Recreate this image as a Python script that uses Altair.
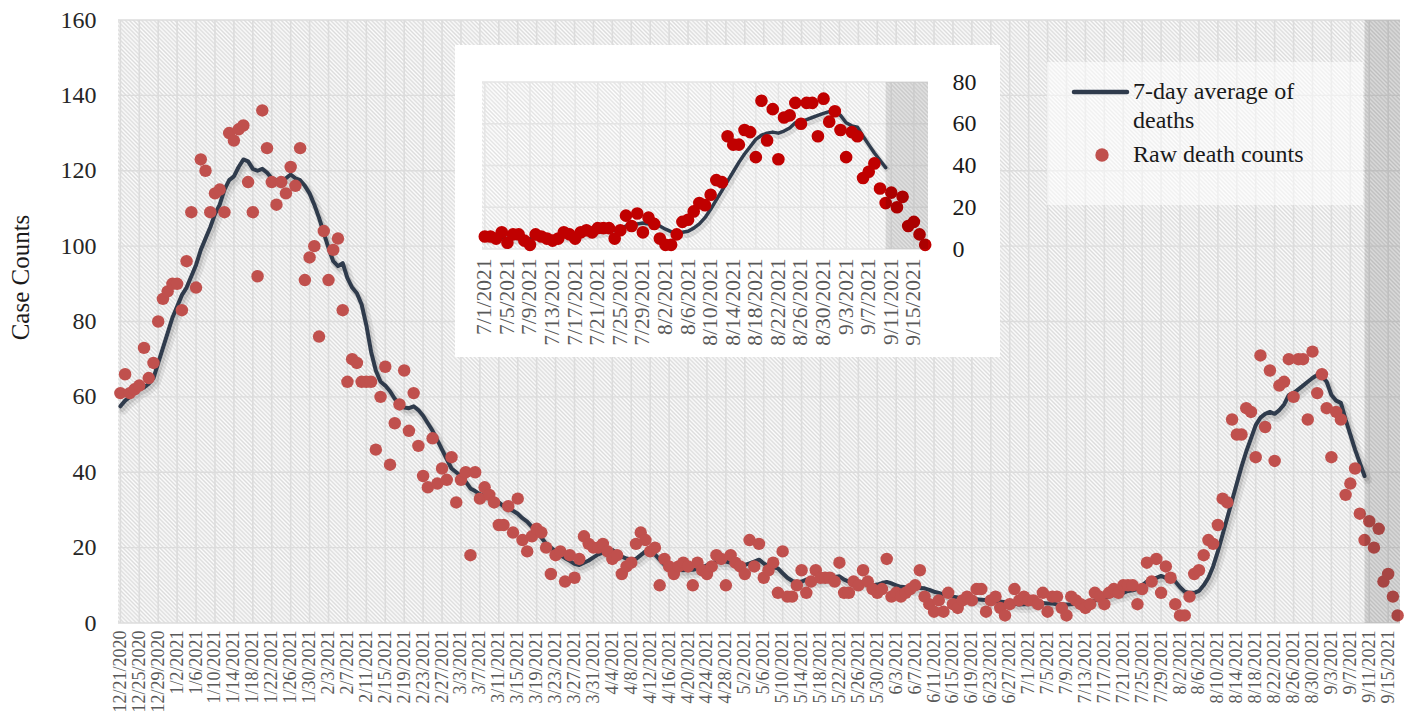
import altair as alt
import pandas as pd
import numpy as np

# ---------------- data ----------------
START_DATE = "2020-12-21"
SHADE_START = "2021-09-10"      # start of the greyed (incomplete) period
INSET_START = "2021-07-01"

raw_deaths = [
    61, 66, 61, 62, 63, 73, 65, 69, 80, 86,
    88, 90, 90, 83, 96, 109, 89, 123, 120, 109,
    114, 115, 109, 130, 128, 131, 132, 117, 109, 92,
    136, 126, 117, 111, 117, 114, 121, 116, 126, 91,
    97, 100, 76, 104, 91, 99, 102, 83, 64, 70,
    69, 64, 64, 64, 46, 60, 68, 42, 53, 58,
    67, 51, 61, 47, 39, 36, 49, 37, 41, 38,
    44, 32, 38, 40, 18, 40, 33, 36, 34, 32,
    26, 26, 31, 24, 33, 22, 19, 23, 25, 24,
    20, 13, 18, 19, 11, 18, 12, 17, 23, 21,
    20, 20, 21, 19, 17, 18, 13, 15, 16, 21,
    24, 22, 19, 20, 10, 17, 15, 13, 15, 16,
    15, 10, 16, 14, 13, 15, 18, 17, 10, 18,
    16, 15, 13, 22, 15, 21, 12, 14, 16, 8,
    19, 7, 7, 10, 14, 8, 11, 14, 12, 12,
    12, 11, 16, 8, 8, 11, 10, 14, 11, 9,
    8, 9, 17, 7, 8, 7, 8, 9, 10, 14,
    7, 5, 3, 6, 3, 8, 5, 4, 6, 7,
    6, 9, 9, 3, 6, 7, 4, 2, 5, 9,
    6, 7,
    # July 1 onwards
    6, 6, 5, 8, 3, 7, 7, 4, 2, 7,
    6, 5, 4, 5, 8, 7, 5, 8, 9, 8,
    10, 10, 10, 5, 9, 16, 11, 17, 8, 15,
    12, 5, 2, 2, 7, 13, 14, 18, 22, 21,
    26, 33, 32, 54, 50, 50, 57, 56, 44, 71,
    52, 67, 43, 63, 64, 70, 60, 70, 70, 54,
    72, 61, 66, 57, 44, 56, 54, 34, 37, 41,
    29, 22, 27, 20, 25, 11, 13, 7, 2,
]

avg_deaths = [
    57.5, 59, 60, 61, 62, 62.5, 63.5, 65, 69, 73,
    77, 81, 84, 87, 89, 92, 95, 99, 102, 105,
    108.5, 111, 115, 117.5, 118.5, 121, 123, 122.5, 120.5, 120,
    120.5, 119.5, 118, 117.5, 117.5, 118, 119, 118, 117.5, 116,
    114, 111, 107.5, 103.5, 99.5, 96, 94.7, 95.5, 91.5, 89,
    87.5, 84.5, 79, 72, 67, 64, 63, 61.5, 59.5, 58,
    57.2, 57, 57.5, 56.5, 55, 53, 51, 48.5, 46, 43.5,
    41, 40, 39, 37.5, 35.7, 35, 34.2, 33.7, 33.2, 32.8,
    32, 31, 30.2, 29.8, 29, 27.8, 26.9, 25.5, 24.3, 22.7,
    21, 20, 19, 18, 17.2, 16.5, 15.7, 15.4, 16, 16.6,
    17.4, 18.2, 18.7, 19.2, 19.4, 18.5, 17.6, 17.1, 16.8, 17,
    18, 19, 19.2, 18.2, 16.8, 15.5, 15, 14.5, 14.1, 14,
    14.1, 14.1, 14.4, 14.8, 15.3, 15.8, 16.3, 16.3, 16.3, 16,
    15.8, 15.6, 15.4, 15.8, 16.3, 16.8, 15.8, 15, 14.8, 14.5,
    13.2, 12, 11.2, 10.7, 11, 11.5, 11.5, 11.5, 11.6, 11.8,
    12, 12.2, 12.4, 11.5, 11, 10.8, 10.6, 10.8, 10.5, 10,
    10.2, 10.6, 10.9, 10.5, 10, 9.6, 9.5, 9.4, 9.3, 9.3,
    9.2, 8.8, 8.3, 8, 7.6, 7.3, 7, 6.8, 6.7, 6.5,
    6.4, 6.3, 6.2, 6.1, 6, 5.8, 5.7, 5.5, 5.3, 5.1,
    4.9, 5, 5, 5.3, 5.3, 5.3, 5.2, 5.2, 5, 4.9,
    4.9, 5, 5.2, 5.3, 5.5, 5.8, 6, 6.3, 6.8, 7,
    7.5, 7.8, 8, 8.5, 8.7, 9, 10, 11, 11.5, 12,
    12.5, 12, 12.5, 11, 9.5, 8.3, 8, 8, 8.5, 10,
    12, 15, 19, 23.5, 28, 32.5, 37, 41.5, 45.5, 49,
    52.5, 54.5, 55.5, 56, 55.5, 56.5, 58, 60.5, 61, 62,
    63, 64, 65, 65.8, 65.5, 64, 60.5, 59, 58.4, 54,
    50, 46, 42.5, 39,
]

main_y_ticks = [0, 20, 40, 60, 80, 100, 120, 140, 160]
inset_y_ticks = [0, 20, 40, 60, 80]
LABEL_STEP_DAYS = 4

LEGEND_LINE = "7-day average of"
LEGEND_LINE_2 = "deaths"
LEGEND_POINTS = "Raw death counts"
Y_TITLE = "Case Counts"

# ---------------- tables ----------------
dates = pd.date_range(START_DATE, periods=len(raw_deaths), freq="D")
df = pd.DataFrame({
    "date": dates.strftime("%Y-%m-%d"),
    "raw": raw_deaths,
    "avg": avg_deaths + [None] * (len(raw_deaths) - len(avg_deaths)),
})
df_inset = df[dates >= pd.Timestamp(INSET_START)].reset_index(drop=True)


def ms(ts):
    return int(pd.Timestamp(ts, tz="UTC").timestamp() * 1000)


half_day = 12 * 3600 * 1000
main_lo = ms(dates[0]) - half_day
main_hi = ms(dates[-1]) + half_day
inset_lo = ms(INSET_START) - half_day
inset_hi = main_hi

main_ticks = [ms(d) for d in dates[::LABEL_STEP_DAYS]]
inset_dates = dates[dates >= pd.Timestamp(INSET_START)]
inset_ticks = [ms(d) for d in inset_dates[::LABEL_STEP_DAYS]]

# ---------------- geometry / style ----------------
W, H = 1282, 603
FONT = "Liberation Serif"
NAVY = "#2f3b4c"
RED_MAIN = "#c0504d"
RED_INSET = "#c00000"
GRID = "#dcdcdc"

IX0, IX1 = 364, 810     # inset plot area (pixels inside main plot)
IY0, IY1 = 229, 62


def hatch(w, h, period, light, dark):
    r = h / w
    a = (1 + r) / (1 + r * r)
    b = a * r
    n = int((w + h) / np.sqrt(2) / period)
    stops = [{"offset": k / (2 * n), "color": light if k % 2 == 0 else dark}
             for k in range(2 * n + 1)]
    return {"gradient": "linear", "x1": 0, "y1": 1, "x2": a, "y2": 1 - b, "stops": stops}


XS = alt.Scale(type="utc", domain=[main_lo, main_hi])
YS = alt.Scale(domain=[0, 160], nice=False)
XAX = alt.Axis(values=main_ticks, labelExpr="utcFormat(datum.value, '%-m/%-d/%Y')",
               labelAngle=270, labelFont=FONT, labelFontSize=18, labelColor="#595959",
               labelPadding=7, ticks=False, domain=False, grid=False, title=None,
               labelOverlap=False, labelFlush=False)
YAX = alt.Axis(values=main_y_ticks, labelFont=FONT, labelFontSize=24, labelColor="#262626",
               labelPadding=22, ticks=False, domain=False, grid=False,
               title=Y_TITLE, titleFont=FONT, titleFontSize=25, titleFontWeight="normal",
               titleColor="#1a1a1a", titleAngle=270, titleX=-98, titleY=257,
               titleBaseline="middle", titleAlign="center")

IXS = alt.Scale(type="utc", domain=[inset_lo, inset_hi], range=[IX0, IX1])
IYS = alt.Scale(domain=[0, 80], nice=False, range=[IY0, IY1])
IXAX = alt.Axis(values=inset_ticks, labelExpr="utcFormat(datum.value, '%-m/%-d/%Y')",
                orient="bottom", offset=IY0 - H, zindex=2,
                labelAngle=270, labelFont=FONT, labelFontSize=21.5, labelColor="#595959",
                labelPadding=9, ticks=False, domain=False, grid=False, title=None,
                labelOverlap=False, labelFlush=False)
IYAX = alt.Axis(values=inset_y_ticks, orient="right", offset=IX1 - W, zindex=2,
                labelFont=FONT, labelFontSize=24, labelColor="#1a1a1a",
                labelPadding=24, ticks=False, domain=False, grid=False, title=None)


def xm(f):
    return alt.X(f, type="temporal", scale=XS, axis=XAX)


def ym(f):
    return alt.Y(f, type="quantitative", scale=YS, axis=YAX)


def xi(f):
    return alt.X(f, type="temporal", scale=IXS, axis=IXAX)


def yi(f):
    return alt.Y(f, type="quantitative", scale=IYS, axis=IYAX)


one = pd.DataFrame({"k": [0]})

# ---------------- main chart ----------------
bg = alt.Chart(pd.DataFrame({"x0": [main_lo], "x1": [main_hi], "y0": [0], "y1": [160]})).mark_rect(
    fill=hatch(W, H, 2.9, "#fcfcfc", "#dcdcdc"), strokeWidth=0
).encode(x=xm("x0"), x2=alt.X2("x1"), y=ym("y0"), y2=alt.Y2("y1"))

vgrid = alt.Chart(pd.DataFrame({"tick": main_ticks})).mark_rule(
    color=GRID, strokeWidth=1.6).encode(x=xm("tick"))
hgrid = alt.Chart(pd.DataFrame({"level": main_y_ticks})).mark_rule(
    color=GRID, strokeWidth=1.4).encode(y=ym("level"))

leg_box = alt.Chart(one).mark_rect(fill="white", opacity=0.55).encode(
    x=alt.value(929), x2=alt.value(1245), y=alt.value(42), y2=alt.value(185))

line_src = alt.Chart(df).transform_filter("isValid(datum.avg)")
shadow1 = line_src.mark_line(color="black", opacity=0.07, strokeWidth=9, xOffset=3, yOffset=4,
                             strokeJoin="round", strokeCap="round").encode(x=xm("date"), y=ym("avg"))
shadow2 = line_src.mark_line(color="black", opacity=0.10, strokeWidth=5, xOffset=2, yOffset=3,
                             strokeJoin="round", strokeCap="round").encode(x=xm("date"), y=ym("avg"))
line = line_src.mark_line(color=NAVY, strokeWidth=4, strokeJoin="round", strokeCap="round").encode(
    x=xm("date"), y=ym("avg"))
points = alt.Chart(df).mark_circle(size=155, color=RED_MAIN, opacity=1).encode(
    x=xm("date"), y=ym("raw"))

shade = alt.Chart(pd.DataFrame({"s": [ms(SHADE_START)], "e": [main_hi], "y0": [0], "y1": [160]})).mark_rect(
    color="black", opacity=0.13).encode(x=xm("s"), x2=alt.X2("e"), y=ym("y0"), y2=alt.Y2("y1"))

leg_line = alt.Chart(one).mark_rule(color=NAVY, strokeWidth=4.5, strokeCap="round").encode(
    x=alt.value(956), x2=alt.value(1009), y=alt.value(72))
leg_t1 = alt.Chart(one).mark_text(text=LEGEND_LINE, align="left", baseline="middle", font=FONT,
                                  fontSize=24, color="#1a1a1a").encode(x=alt.value(1015), y=alt.value(72))
leg_t2 = alt.Chart(one).mark_text(text=LEGEND_LINE_2, align="left", baseline="middle", font=FONT,
                                  fontSize=24, color="#1a1a1a").encode(x=alt.value(1015), y=alt.value(101))
leg_dot = alt.Chart(one).mark_circle(size=180, color=RED_MAIN, opacity=1).encode(
    x=alt.value(984), y=alt.value(135))
leg_t3 = alt.Chart(one).mark_text(text=LEGEND_POINTS, align="left", baseline="middle", font=FONT,
                                  fontSize=24, color="#1a1a1a").encode(x=alt.value(1015), y=alt.value(135))

main = alt.layer(bg, vgrid, hgrid, leg_box, shadow1, shadow2, line, points, shade,
                 leg_line, leg_t1, leg_t2, leg_dot, leg_t3)

# ---------------- inset chart ----------------
card = alt.Chart(one).mark_rect(fill="white").encode(
    x=alt.value(337), x2=alt.value(882), y=alt.value(25), y2=alt.value(337))

ibg = alt.Chart(pd.DataFrame({"x0": [inset_lo], "x1": [inset_hi], "y0": [0], "y1": [80]})).mark_rect(
    fill=hatch(IX1 - IX0, IY0 - IY1, 2.9, "#ffffff", "#e2e2e2"), strokeWidth=0
).encode(x=xi("x0"), x2=alt.X2("x1"), y=yi("y0"), y2=alt.Y2("y1"))

ivgrid = alt.Chart(pd.DataFrame({"tick": inset_ticks, "y0": 0, "y1": 80})).mark_rule(
    color="#e4e4e4", strokeWidth=1.4).encode(x=xi("tick"), y=yi("y0"), y2=alt.Y2("y1"))
ihgrid = alt.Chart(pd.DataFrame({"level": inset_y_ticks, "x0": inset_lo, "x1": inset_hi})).mark_rule(
    color="#e4e4e4", strokeWidth=1.4).encode(y=yi("level"), x=xi("x0"), x2=alt.X2("x1"))

iline_src = alt.Chart(df_inset).transform_filter("isValid(datum.avg)")
ishadow = iline_src.mark_line(color="black", opacity=0.10, strokeWidth=6, xOffset=2, yOffset=3,
                              strokeJoin="round").encode(x=xi("date"), y=yi("avg"))
iline = iline_src.mark_line(color=NAVY, strokeWidth=3.5, strokeJoin="round", strokeCap="round").encode(
    x=xi("date"), y=yi("avg"))
ipoints = alt.Chart(df_inset).mark_circle(size=160, color=RED_INSET, opacity=1).encode(
    x=xi("date"), y=yi("raw"))
ishade = alt.Chart(pd.DataFrame({"s": [ms(SHADE_START)], "e": [inset_hi], "y0": [0], "y1": [80]})).mark_rect(
    color="black", opacity=0.11).encode(x=xi("s"), x2=alt.X2("e"), y=yi("y0"), y2=alt.Y2("y1"))

inset = alt.layer(card, ibg, ivgrid, ihgrid, ishadow, iline, ipoints, ishade)

chart = alt.layer(main, inset).resolve_scale(x="independent", y="independent").properties(
    width=W, height=H,
    autosize=alt.AutoSizeParams(type="none"),
    padding={"left": 110, "top": 12, "right": 10, "bottom": 92},
    background="white",
).configure_view(stroke=None)

chart.save("out.html", embed_options={"renderer": "svg", "actions": False})
